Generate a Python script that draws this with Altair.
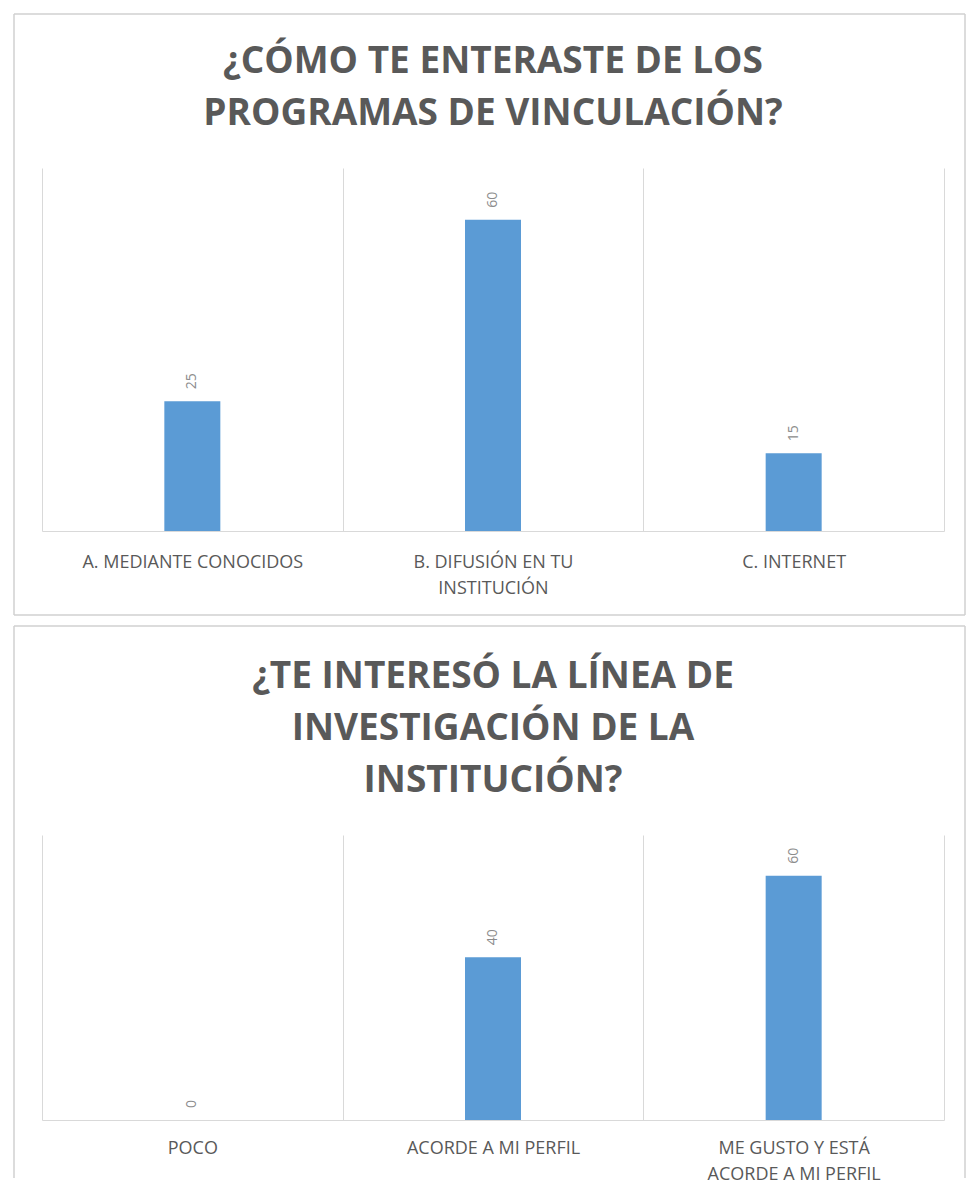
import altair as alt
import pandas as pd

# ---- data ----
title1 = ["¿CÓMO TE ENTERASTE DE LOS", "PROGRAMAS DE VINCULACIÓN?"]
cats1 = ["A. MEDIANTE CONOCIDOS", "B. DIFUSIÓN EN TU\nINSTITUCIÓN", "C. INTERNET"]
vals1 = [25, 60, 15]

title2 = ["¿TE INTERESÓ LA LÍNEA DE", "INVESTIGACIÓN DE LA", "INSTITUCIÓN?"]
cats2 = ["POCO", "ACORDE A MI PERFIL", "ME GUSTO Y ESTÁ\nACORDE A MI PERFIL"]
vals2 = [0, 40, 60]

W = 902
BAR = "#5B9BD5"
GRID = "#D9D9D9"
TXT = "#595959"
BOX = "#D0D0D0"
FONT = "Open Sans"


def edge(x1, x2, y1, y2):
    return alt.Chart(pd.DataFrame({"b": [0]})).mark_rule(
        color=BOX, strokeWidth=1.5
    ).encode(
        x=alt.value(x1), x2=alt.value(x2),
        y=alt.value(y1), y2=alt.value(y2)
    )


def panel(cats, vals, title_lines, h, box_top, box_bottom, title_base,
          label_pad, closed):
    df = pd.DataFrame({"cat": cats, "val": vals})
    x = alt.X(
        "cat:N",
        sort=cats,
        scale=alt.Scale(paddingInner=0, paddingOuter=0),
        axis=alt.Axis(
            title=None,
            labelAngle=0,
            labelExpr="split(datum.label, '\\n')",
            labelLimit=0,
            tickBand="extent",
            grid=True,
            gridColor=GRID,
            gridWidth=1,
            domainColor=GRID,
            domainWidth=1,
            ticks=False,
            tickSize=0,
            labelFont=FONT,
            labelFontSize=18,
            labelColor=TXT,
            labelLineHeight=26,
            labelPadding=label_pad,
            labelBaseline="top",
        ),
    )
    y = alt.Y("val:Q", scale=alt.Scale(domain=[0, 70]), axis=None)
    base = alt.Chart(df)
    bars = base.mark_bar(size=56, color=BAR).encode(x=x, y=y)
    labels = base.mark_text(
        angle=270, align="left", baseline="middle", dx=12,
        fontSize=14, font=FONT, color="#8C8C8C"
    ).encode(x=x, y=y, text="val:Q")
    L, R = -28, 923
    layers = [bars, labels,
              edge(L, L, box_top, box_bottom),
              edge(R, R, box_top, box_bottom),
              edge(L, R, box_top, box_top)]
    if closed:
        layers.append(edge(L, R, box_bottom, box_bottom))
    for i, line in enumerate(title_lines):
        t = alt.Chart(pd.DataFrame({"t": [line]})).mark_text(
            font=FONT, fontSize=37, fontWeight="bold", color=TXT,
            align="center", baseline="alphabetic"
        ).encode(
            text="t:N",
            x=alt.value(W / 2),
            y=alt.value(title_base + 52 * i),
        )
        layers.append(t)
    return alt.layer(*layers).properties(width=W, height=h)


top = panel(cats1, vals1, title1, 363, -154, 447, -95, 22, True)
bottom = panel(cats2, vals2, title2, 285, -209, 343, -147, 19, False)

chart = alt.vconcat(top, bottom, spacing=9).resolve_scale(
    x="independent", y="independent"
).properties(
    padding={"left": 5, "top": 5, "right": 0, "bottom": 0}
).configure_view(stroke=None)

chart.save("out.html", embed_options={"renderer": "svg", "actions": False})
